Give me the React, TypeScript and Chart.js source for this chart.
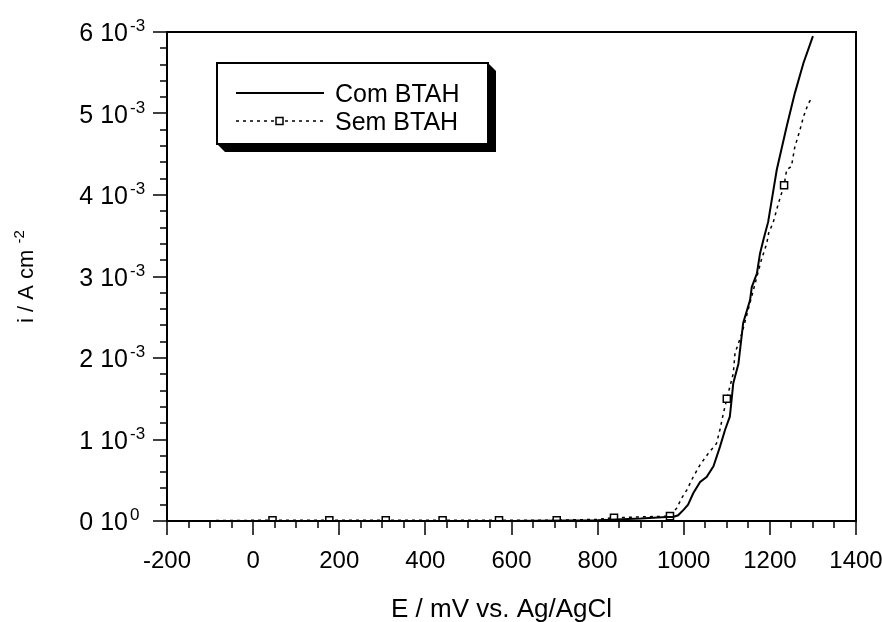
import { useEffect, useRef } from "react";
import { Chart, registerables } from "chart.js";

Chart.register(...registerables);

// ---- data (E in mV vs Ag/AgCl, i in A cm^-2) ----
const comLabel = "Com BTAH";
const comX = [-200, 0, 200, 400, 600, 800, 900, 960, 975, 987, 1000, 1010, 1022, 1038, 1053, 1069, 1084, 1096, 1107, 1111, 1115, 1127, 1138, 1154, 1158, 1170, 1177, 1185, 1196, 1216, 1239, 1258, 1278, 1290, 1300];
const comY = [0, 0, 0, 0, 0, 0.01e-3, 0.03e-3, 0.05e-3, 0.05e-3, 0.07e-3, 0.14e-3, 0.2e-3, 0.34e-3, 0.48e-3, 0.54e-3, 0.67e-3, 0.91e-3, 1.12e-3, 1.28e-3, 1.48e-3, 1.69e-3, 1.93e-3, 2.43e-3, 2.71e-3, 2.87e-3, 3.04e-3, 3.28e-3, 3.45e-3, 3.67e-3, 4.31e-3, 4.84e-3, 5.25e-3, 5.62e-3, 5.8e-3, 5.95e-3];

const semLabel = "Sem BTAH";
const semX = [-200, 45, 177, 308, 440, 571, 705, 800, 838, 900, 968, 984, 995, 1007, 1022, 1038, 1057, 1076, 1084, 1092, 1100, 1115, 1119, 1135, 1160, 1180, 1193, 1197, 1208, 1220, 1233, 1239, 1250, 1258, 1270, 1278, 1289, 1295];
const semY = [0, 0.01e-3, 0.01e-3, 0.01e-3, 0.01e-3, 0.01e-3, 0.01e-3, 0.02e-3, 0.04e-3, 0.05e-3, 0.06e-3, 0.16e-3, 0.28e-3, 0.38e-3, 0.54e-3, 0.69e-3, 0.83e-3, 0.95e-3, 1.12e-3, 1.32e-3, 1.5e-3, 1.81e-3, 2.06e-3, 2.3e-3, 2.8e-3, 3.2e-3, 3.41e-3, 3.53e-3, 3.67e-3, 3.9e-3, 4.12e-3, 4.31e-3, 4.35e-3, 4.59e-3, 4.8e-3, 4.96e-3, 5.12e-3, 5.17e-3];
const semMarkerX = [45, 177, 308, 440, 571, 705, 838, 968, 1100, 1233];

// ---- axes ----
const xMin = -200;
const xMax = 1400;
const xMinorStep = 50;
const xTickVals = [-200, 0, 200, 400, 600, 800, 1000, 1200, 1400];
const xTickLabels = ["-200", "0", "200", "400", "600", "800", "1000", "1200", "1400"];

const yMin = 0;
const yMax = 6e-3;
const yMinorStep = 0.2e-3;
const yTickVals = [0, 1e-3, 2e-3, 3e-3, 4e-3, 5e-3, 6e-3];
const yTickMain = ["0 10", "1 10", "2 10", "3 10", "4 10", "5 10", "6 10"];
const yTickSup = ["0", "-3", "-3", "-3", "-3", "-3", "-3"];

const xTitle = "E / mV vs. Ag/AgCl";
const yTitleMain = "i / A cm ";
const yTitleSup = "-2";

const FONT = '"Liberation Sans", Arial, sans-serif';

const decor = {
  id: "decor",
  afterDraw(chart: any) {
    const { ctx, chartArea } = chart;
    const { left, right, top, bottom } = chartArea;
    const xs = chart.scales.x;
    const ys = chart.scales.y;
    ctx.save();
    ctx.strokeStyle = "#000";
    ctx.fillStyle = "#000";

    // frame
    ctx.lineWidth = 2;
    ctx.strokeRect(left, top, right - left, bottom - top);

    // x ticks
    ctx.lineWidth = 1.5;
    const nX = Math.round((xMax - xMin) / xMinorStep);
    for (let i = 0; i <= nX; i++) {
      const v = xMin + i * xMinorStep;
      const px = Math.round(xs.getPixelForValue(v));
      const major = xTickVals.includes(v);
      ctx.beginPath();
      ctx.moveTo(px, bottom);
      ctx.lineTo(px, bottom + (major ? 14 : 7));
      ctx.stroke();
    }
    // y ticks
    const nY = Math.round((yMax - yMin) / yMinorStep);
    for (let i = 0; i <= nY; i++) {
      const v = yMin + i * yMinorStep;
      const py = Math.round(ys.getPixelForValue(v));
      const major = i % 5 === 0;
      ctx.beginPath();
      ctx.moveTo(left, py);
      ctx.lineTo(left - (major ? 14 : 7), py);
      ctx.stroke();
    }

    // x tick labels
    ctx.font = `24px ${FONT}`;
    ctx.textAlign = "center";
    ctx.textBaseline = "alphabetic";
    xTickVals.forEach((v, i) => {
      const px = xs.getPixelForValue(v);
      ctx.fillText(xTickLabels[i], px, bottom + 47);
    });

    // y tick labels
    yTickVals.forEach((v, i) => {
      const py = ys.getPixelForValue(v);
      ctx.font = `25px ${FONT}`;
      ctx.textAlign = "right";
      ctx.fillText(yTickMain[i], left - 39, py + 9);
      ctx.font = `17px ${FONT}`;
      ctx.textAlign = "left";
      ctx.fillText(yTickSup[i], left - 37, py - 1);
    });

    // x title
    ctx.font = `26px ${FONT}`;
    ctx.textAlign = "left";
    ctx.fillText(xTitle, 391, 617);

    // y title (rotated)
    ctx.save();
    const cy = (top + bottom) / 2;
    ctx.translate(33, cy);
    ctx.rotate(-Math.PI / 2);
    ctx.font = `22px ${FONT}`;
    const w1 = ctx.measureText(yTitleMain).width;
    ctx.font = `15px ${FONT}`;
    const w2 = ctx.measureText(yTitleSup).width;
    const start = -(w1 + w2) / 2;
    ctx.font = `22px ${FONT}`;
    ctx.textAlign = "left";
    ctx.fillText(yTitleMain, start, 0);
    ctx.font = `15px ${FONT}`;
    ctx.fillText(yTitleSup, start + w1, -9);
    ctx.restore();

    // legend with shadow
    const L = 217, T = 63, R = 488, B = 144, S = 8;
    ctx.beginPath();
    ctx.moveTo(R, T);
    ctx.lineTo(R + S, T + S);
    ctx.lineTo(R + S, B + S);
    ctx.lineTo(L + S, B + S);
    ctx.lineTo(L, B);
    ctx.closePath();
    ctx.fill();
    ctx.fillStyle = "#fff";
    ctx.fillRect(L, T, R - L, B - T);
    ctx.fillStyle = "#000";
    ctx.lineWidth = 2;
    ctx.strokeRect(L, T, R - L, B - T);

    const ds = chart.data.datasets;
    // entry 1: solid
    ctx.lineWidth = 2;
    ctx.beginPath();
    ctx.moveTo(236, 93);
    ctx.lineTo(324, 93);
    ctx.stroke();
    // entry 2: dashed + marker
    ctx.lineWidth = 1.5;
    ctx.setLineDash([3, 4]);
    ctx.beginPath();
    ctx.moveTo(236, 121);
    ctx.lineTo(324, 121);
    ctx.stroke();
    ctx.setLineDash([]);
    ctx.fillStyle = "#fff";
    ctx.fillRect(276, 117.5, 7, 7);
    ctx.strokeRect(276, 117.5, 7, 7);
    ctx.fillStyle = "#000";

    ctx.font = `25px ${FONT}`;
    ctx.textAlign = "left";
    ctx.fillText(ds[0].label, 335, 102);
    ctx.fillText(ds[1].label, 335, 130);

    ctx.restore();
  },
};

export default function App() {
  const ref = useRef<HTMLCanvasElement | null>(null);
  useEffect(() => {
    if (!ref.current) return;
    const chart = new Chart(ref.current, {
      type: "line",
      data: {
        datasets: [
          {
            label: comLabel,
            data: comX.map((x, i) => ({ x, y: comY[i] })),
            borderColor: "#000",
            borderWidth: 2,
            pointRadius: 0,
            tension: 0,
            fill: false,
          },
          {
            label: semLabel,
            data: semX.map((x, i) => ({ x, y: semY[i] })),
            borderColor: "#000",
            borderWidth: 1.5,
            borderDash: [3, 4],
            tension: 0,
            fill: false,
            pointStyle: "rect",
            pointRadius: (c: any) => (semMarkerX.includes(c.raw?.x) ? 5 : 0),
            pointBackgroundColor: "#fff",
            pointBorderColor: "#000",
            pointBorderWidth: 1.5,
          },
        ],
      } as any,
      options: {
        animation: false,
        responsive: false,
        events: [],
        layout: { padding: { left: 167, right: 26, top: 32, bottom: 101 } },
        scales: {
          x: { type: "linear", min: xMin, max: xMax, display: false },
          y: { type: "linear", min: yMin, max: yMax, display: false },
        },
        plugins: { legend: { display: false }, tooltip: { enabled: false } },
      } as any,
      plugins: [decor],
    });
    return () => chart.destroy();
  }, []);
  return (
    <div style={{ position: "fixed", left: 0, top: 0, width: 882, height: 622, background: "#fff" }}>
      <canvas ref={ref} width={882} height={622} style={{ width: 882, height: 622, display: "block" }} />
    </div>
  );
}
